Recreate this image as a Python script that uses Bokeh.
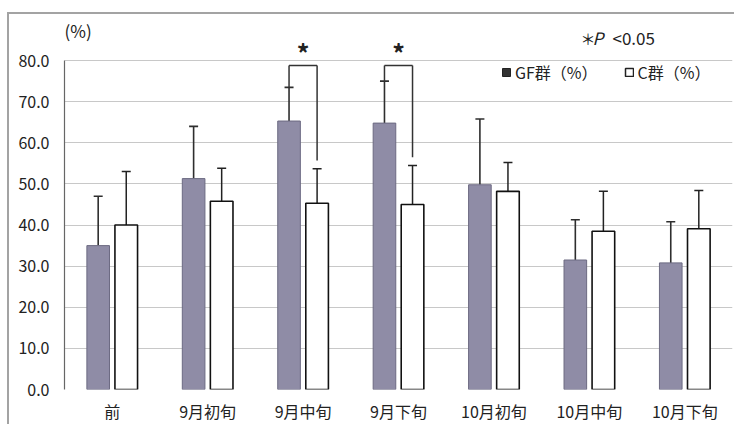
from bokeh.plotting import figure
from bokeh.models import (ColumnDataSource, FactorRange, Range1d, Whisker, TeeHead,
                          FixedTicker, NumeralTickFormatter, Legend, LegendItem, Label)
from bokeh.transform import dodge
from bokeh.core.properties import value
from bokeh.embed import file_html
from bokeh.resources import INLINE

categories = ["前", "9月初旬", "9月中旬", "9月下旬", "10月初旬", "10月中旬", "10月下旬"]
gf_mean = [35.0, 51.3, 65.3, 64.8, 49.8, 31.5, 30.8]
gf_sd = [12.0, 12.7, 8.2, 10.2, 16.0, 9.8, 10.0]
c_mean = [40.0, 45.8, 45.3, 45.0, 48.2, 38.5, 39.1]
c_sd = [13.0, 8.0, 8.4, 9.5, 7.0, 9.7, 9.3]
sig_categories = ["9月中旬", "9月下旬"]
sig_bracket = [78.8, 78.8]
sig_mark = ["*", "*"]
y_ticks = [0, 10, 20, 30, 40, 50, 60, 70, 80]

FONT = "Noto Sans CJK JP"
OFF = 0.147
BW = 0.237

src = ColumnDataSource(dict(
    cat=categories,
    gf=gf_mean,
    gf_hi=[m + s for m, s in zip(gf_mean, gf_sd)],
    gf_lo=[m - s for m, s in zip(gf_mean, gf_sd)],
    c=c_mean,
    c_hi=[m + s for m, s in zip(c_mean, c_sd)],
    c_lo=[m - s for m, s in zip(c_mean, c_sd)],
))

idx = [categories.index(c) for c in sig_categories]
sig_src = ColumnDataSource(dict(
    cat=sig_categories,
    y=sig_bracket,
    ltop=[gf_mean[i] + gf_sd[i] for i in idx],
    rtop=[c_mean[i] + c_sd[i] + 2.0 for i in idx],
    mark_y=[b + 3.4 for b in sig_bracket],
    mark=sig_mark,
))

p = figure(x_range=FactorRange(factors=categories, range_padding=0),
           y_range=Range1d(0, 90),
           width=727, height=412, output_backend="svg", toolbar_location=None,
           min_border_left=55, min_border_right=4, min_border_top=5, min_border_bottom=37)
p.styles = {"margin-left": "7px", "margin-top": "12px",
            "border-left": "2px solid #a3a3a3", "border-top": "2px solid #a3a3a3"}
p.outline_line_color = None
p.background_fill_color = "white"

gf_x = dodge("cat", -OFF, range=p.x_range)
c_x = dodge("cat", OFF, range=p.x_range)

p.vbar(x=gf_x, top="gf", width=BW, source=src, fill_color="#8f8ca6",
       line_color="#6c6a82", line_width=1)
p.vbar(x=c_x, top="c", width=BW, source=src, fill_color="white",
       line_color="#111111", line_width=1.6)

# GF error bars: upper part dark, lower part inside the bar lighter
p.add_layout(Whisker(base=gf_x, lower="gf", upper="gf_hi", source=src,
                     line_color="#2e2e2e", line_width=1.6,
                     upper_head=TeeHead(size=9, line_color="#2e2e2e", line_width=1.6),
                     lower_head=None))
p.add_layout(Whisker(base=gf_x, lower="gf_lo", upper="gf", source=src,
                     line_color="#5e5c72", line_width=1.2,
                     upper_head=None,
                     lower_head=TeeHead(size=7, line_color="#76748a", line_width=1)))
p.add_layout(Whisker(base=c_x, lower="c_lo", upper="c_hi", source=src,
                     line_color="#222222", line_width=1.5,
                     upper_head=TeeHead(size=9, line_color="#222222", line_width=1.5),
                     lower_head=TeeHead(size=9, line_color="#444444", line_width=1.3)))

# significance brackets
p.segment(x0=gf_x, y0="ltop", x1=gf_x, y1="y", source=sig_src, line_color="#333333", line_width=1.5)
p.segment(x0=gf_x, y0="y", x1=c_x, y1="y", source=sig_src, line_color="#333333", line_width=1.5)
p.segment(x0=c_x, y0="y", x1=c_x, y1="rtop", source=sig_src, line_color="#333333", line_width=1.5)
p.text(x="cat", y="mark_y", text="mark", source=sig_src, text_align="center",
       text_baseline="middle", text_font=value(FONT), text_font_size="25px",
       text_font_style="bold", text_color="#222222")

# axes
p.yaxis.ticker = FixedTicker(ticks=y_ticks)
p.yaxis.formatter = NumeralTickFormatter(format="0.0")
p.yaxis.bounds = (0, 80)
p.yaxis.axis_line_color = "#666666"
p.yaxis.axis_line_width = 1.2
p.yaxis.major_tick_line_color = None
p.yaxis.minor_tick_line_color = None
p.yaxis.major_label_text_font = FONT
p.yaxis.major_label_text_font_size = "16px"
p.yaxis.major_label_text_color = "#222222"
p.yaxis.major_label_standoff = 9

p.xaxis.axis_line_color = None
p.xaxis.major_tick_line_color = None
p.xaxis.minor_tick_line_color = None
p.xaxis.major_label_text_font = FONT
p.xaxis.major_label_text_font_size = "16px"
p.xaxis.major_label_text_color = "#222222"
p.xaxis.major_label_standoff = 3

p.xgrid.grid_line_color = None
p.ygrid.ticker = FixedTicker(ticks=y_ticks)
p.ygrid.grid_line_color = "#c8c8c8"
p.ygrid.grid_line_width = 1

# legend (icons as in the reference, drawn by hidden renderers)
leg_gf = p.vbar(x=gf_x, top="gf", width=BW, source=src, fill_color="#333333",
                line_color="#222222", visible=False)
leg_c = p.vbar(x=c_x, top="c", width=BW, source=src, fill_color="white",
               line_color="#222222", line_width=1.5, visible=False)
legend = Legend(items=[LegendItem(label="GF群（%）", renderers=[leg_gf]),
                       LegendItem(label="C群（%）", renderers=[leg_c])],
                orientation="horizontal", location=(437, 305),
                glyph_width=10, glyph_height=10, label_standoff=4, spacing=26,
                padding=0, margin=0, border_line_color=None,
                background_fill_alpha=0,
                label_text_font=FONT, label_text_font_size="16px",
                label_text_color="#222222")
p.add_layout(legend)

# texts
p.add_layout(Label(x=0, y=359, x_units="screen", y_units="screen", text="(%)",
                   text_font=FONT, text_font_size="17px", text_color="#222222",
                   text_baseline="middle"))
p.add_layout(Label(x=516, y=351, x_units="screen", y_units="screen", text="＊",
                   text_font=FONT, text_font_size="15px", text_color="#222222",
                   text_baseline="middle"))
p.add_layout(Label(x=528, y=352, x_units="screen", y_units="screen", text="P",
                   text_font=FONT, text_font_size="17px", text_font_style="italic",
                   text_color="#222222", text_baseline="middle"))
p.add_layout(Label(x=548, y=352, x_units="screen", y_units="screen", text="<0.05",
                   text_font=FONT, text_font_size="17px", text_color="#222222",
                   text_baseline="middle"))

open("out.html", "w").write(file_html(p, INLINE))
